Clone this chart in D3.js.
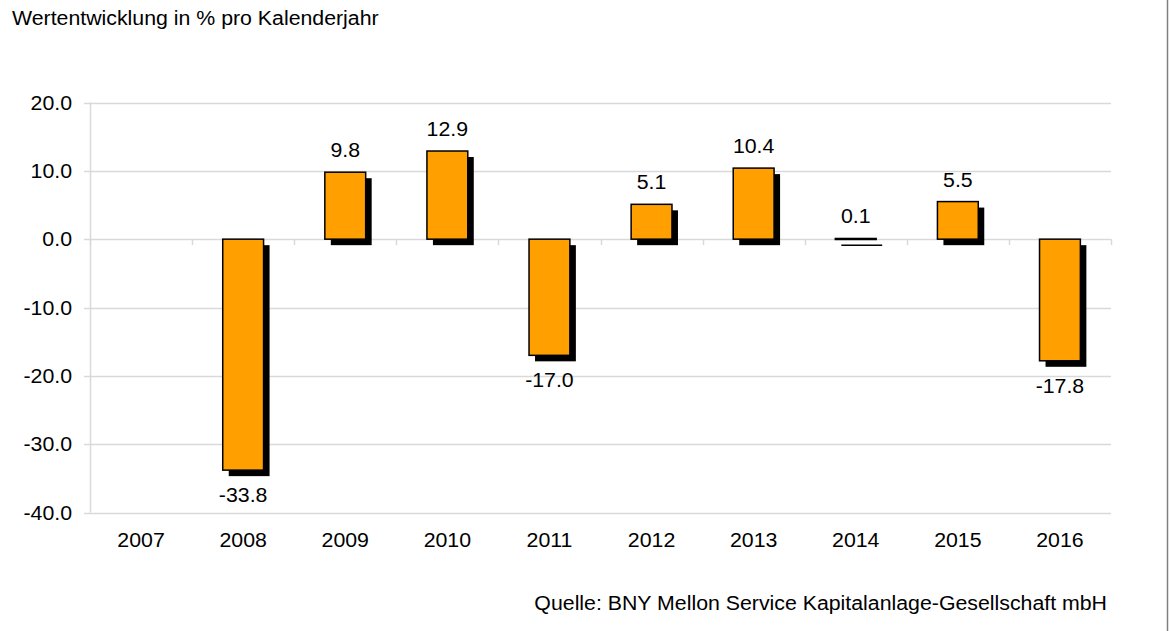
<!DOCTYPE html>
<html><head><meta charset="utf-8">
<script src="https://cdn.jsdelivr.net/npm/d3@7"></script>
<style>
html,body{margin:0;padding:0;background:#fff;}
text{font-family:"Liberation Sans",Arial,sans-serif;fill:#000;}
</style></head>
<body>
<svg id="c" width="1171" height="631"></svg>
<script>
const years = ["2007","2008","2009","2010","2011","2012","2013","2014","2015","2016"];
const values = [null,-33.8,9.8,12.9,-17.0,5.1,10.4,0.1,5.5,-17.8];
const yTicks = [20,10,0,-10,-20,-30,-40];
const title = "Wertentwicklung in % pro Kalenderjahr";
const source = "Quelle: BNY Mellon Service Kapitalanlage-Gesellschaft mbH";

(function(){
const svg = d3.select("#c");
const W = 1171, H = 631;
const pl = 90, pr = 1111, pt = 102.5, pb = 512.5;
const fs = 20, stretch = 1.065;
const fmt = d3.formatLocale({decimal:".",thousands:",",grouping:[3],currency:["",""],minus:"-"}).format(".1f");

function widen(sel){
  sel.each(function(){
    const l = this.getComputedTextLength();
    d3.select(this).attr("textLength", l*stretch).attr("lengthAdjust","spacingAndGlyphs");
  });
}

svg.append("rect").attr("width",W).attr("height",H).attr("fill","#fff");
svg.append("line").attr("x1",1167.5).attr("x2",1167.5).attr("y1",0).attr("y2",H)
  .attr("stroke","#7f7f7f").attr("stroke-width",1.5);

const x = d3.scaleBand().domain(years).range([pl,pr]).paddingInner(0.6).paddingOuter(0.3);
const y = d3.scaleLinear().domain([-40,20]).range([pb,pt]);

svg.append("g").selectAll("line").data(yTicks).join("line")
  .attr("x1",pl-6).attr("x2",pr)
  .attr("y1",d=>Math.round(y(d))+0.5).attr("y2",d=>Math.round(y(d))+0.5)
  .attr("stroke","#d9d9d9").attr("stroke-width",1.5);
svg.append("line").attr("x1",pl+0.5).attr("x2",pl+0.5).attr("y1",pt).attr("y2",pb)
  .attr("stroke","#d9d9d9").attr("stroke-width",1.5);
svg.append("g").selectAll("text").data(yTicks).join("text")
  .attr("x",72).attr("y",d=>y(d)).attr("dy","0.35em").attr("text-anchor","end")
  .attr("font-size",fs).text(d=>fmt(d)).call(widen);

const step = x.step();
const bounds = d3.range(years.length+1).map(i=>pl + i*step);
svg.append("g").selectAll("line").data(bounds).join("line")
  .attr("x1",d=>Math.round(d)+0.5).attr("x2",d=>Math.round(d)+0.5)
  .attr("y1",y(0)).attr("y2",y(0)+6)
  .attr("stroke","#d9d9d9").attr("stroke-width",1.5);

const data = years.map((yr,i)=>({yr,v:values[i]})).filter(d=>d.v!==null);
const off = 6;
svg.append("g").selectAll("rect").data(data).join("rect")
  .attr("x",d=>x(d.yr)+off).attr("width",x.bandwidth())
  .attr("y",d=>Math.min(y(d.v),y(0))+off)
  .attr("height",d=>Math.max(Math.abs(y(d.v)-y(0)),1.5))
  .attr("fill","#000");
svg.append("g").selectAll("rect").data(data).join("rect")
  .attr("x",d=>x(d.yr)).attr("width",x.bandwidth())
  .attr("y",d=>Math.min(y(d.v),y(0)))
  .attr("height",d=>Math.max(Math.abs(y(d.v)-y(0)),1))
  .attr("fill","#ffa000").attr("stroke","#000").attr("stroke-width",1.5);
svg.append("g").selectAll("text").data(data).join("text")
  .attr("x",d=>x(d.yr)+x.bandwidth()/2)
  .attr("y",d=> d.v>=0 ? y(d.v)-22 : y(d.v)+25)
  .attr("dy","0.35em").attr("text-anchor","middle").attr("font-size",fs)
  .text(d=>fmt(d.v)).call(widen);

svg.append("g").selectAll("text").data(years).join("text")
  .attr("x",d=>x(d)+x.bandwidth()/2).attr("y",540).attr("dy","0.35em")
  .attr("text-anchor","middle").attr("font-size",fs).text(d=>d).call(widen);

svg.append("text").attr("x",12).attr("y",18).attr("dy","0.35em").attr("font-size",fs).text(title).call(widen);
svg.append("text").attr("x",1107).attr("y",603).attr("dy","0.35em").attr("text-anchor","end")
  .attr("font-size",fs).text(source).call(widen);
})();
</script>
</body></html>
